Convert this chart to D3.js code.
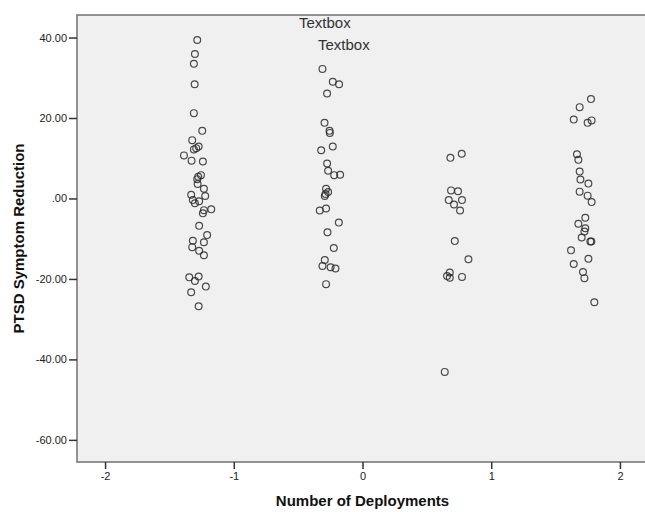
<!DOCTYPE html>
<html>
<head>
<meta charset="utf-8">
<script src="https://cdn.jsdelivr.net/npm/d3@7"></script>
<style>
  body { margin: 0; background: #fff; }
  svg { display: block; font-family: "Liberation Sans", Arial, sans-serif; }
</style>
</head>
<body>
<div id="chart"></div>
<script>
// Jittered deployment values (x) and symptom reduction (y), per group
const g1x = [-1.284, -1.302, -1.310, -1.304, -1.310, -1.245, -1.323, -1.273, -1.292, -1.310,
  -1.387, -1.328, -1.240, -1.255, -1.276, -1.284, -1.281, -1.232, -1.331, -1.222,
  -1.318, -1.269, -1.302, -1.175, -1.232, -1.240, -1.269, -1.207, -1.318, -1.232,
  -1.323, -1.269, -1.232, -1.346, -1.273, -1.302, -1.217, -1.331, -1.273];
const g1y = [39.4, 35.9, 33.5, 28.4, 21.2, 16.8, 14.5, 12.9, 12.5, 12.2,
  10.7, 9.4, 9.2, 5.8, 5.4, 4.8, 3.6, 2.4, 0.9, 0.6,
  -0.4, -0.7, -1.2, -2.7, -2.9, -3.7, -6.8, -9.1, -10.5, -10.9,
  -12.1, -13.0, -14.1, -19.6, -19.4, -20.5, -21.9, -23.3, -26.8];

const g2x = [-0.311, -0.231, -0.182, -0.275, -0.295, -0.256, -0.254, -0.321, -0.231, -0.275,
  -0.267, -0.220, -0.174, -0.283, -0.267, -0.287, -0.293, -0.332, -0.283, -0.184,
  -0.272, -0.223, -0.293, -0.311, -0.248, -0.210, -0.283];
const g2y = [32.2, 29.0, 28.4, 26.1, 18.8, 16.8, 16.3, 12.0, 12.9, 8.7,
  6.9, 5.8, 5.9, 2.4, 1.6, 1.1, 0.6, -3.0, -2.5, -6.0,
  -8.4, -12.3, -15.3, -16.8, -17.1, -17.4, -21.3];

const g3x = [0.683, 0.771, 0.688, 0.742, 0.670, 0.773, 0.711, 0.758, 0.717, 0.823,
  0.678, 0.657, 0.678, 0.773, 0.639];
const g3y = [10.1, 11.1, 2.0, 1.8, -0.4, -0.4, -1.5, -3.0, -10.6, -15.1,
  -18.4, -19.3, -19.7, -19.5, -43.1];

const g4x = [1.775, 1.687, 1.641, 1.749, 1.780, 1.666, 1.677, 1.687, 1.693, 1.755,
  1.687, 1.749, 1.780, 1.731, 1.677, 1.731, 1.724, 1.703, 1.770, 1.778,
  1.620, 1.755, 1.641, 1.713, 1.724, 1.801];
const g4y = [24.7, 22.7, 19.6, 18.8, 19.4, 11.0, 9.6, 6.7, 4.7, 3.7,
  1.7, 0.7, -0.9, -4.8, -6.3, -7.4, -8.2, -9.7, -10.7, -10.7,
  -12.9, -15.0, -16.3, -18.3, -19.8, -25.8];

const xTicks = [-2, -1, 0, 1, 2];
const yTicks = [40, 20, 0, -20, -40, -60];
const yTickLabels = ['40.00', '20.00', '.00', '-20.00', '-40.00', '-60.00'];
const xTickLabels = ['-2', '-1', '0', '1', '2'];
const textboxes = ['Textbox', 'Textbox'];

const width = 645;
const height = 512;
const plot = { left: 77, right: 648, top: 15, bottom: 462 };

const x = d3.scaleLinear().domain([-2.218, 2.218]).range([plot.left, plot.right]);
const y = d3.scaleLinear().domain([-65.5, 45.6]).range([plot.bottom, plot.top]);

const points = [];
[[g1x, g1y], [g2x, g2y], [g3x, g3y], [g4x, g4y]].forEach(([xs, ys]) => {
  xs.forEach((v, i) => points.push({ x: v, y: ys[i] }));
});

const svg = d3.select('#chart')
  .append('svg')
  .attr('width', width)
  .attr('height', height);

// Plot background
svg.append('rect')
  .attr('x', plot.left)
  .attr('y', plot.top)
  .attr('width', plot.right - plot.left)
  .attr('height', plot.bottom - plot.top)
  .attr('fill', '#f0f0f0')
  .attr('stroke', '#707070')
  .attr('stroke-width', 1.5);

// Y axis
const yAxis = svg.append('g')
  .attr('transform', `translate(${plot.left},0)`)
  .call(d3.axisLeft(y).tickValues(yTicks).tickSize(8).tickPadding(2)
    .tickFormat((d, i) => yTickLabels[i]));
yAxis.select('.domain').remove();
yAxis.selectAll('line').attr('stroke', '#333').attr('stroke-width', 1.5);
yAxis.selectAll('text')
  .attr('fill', '#222')
  .attr('font-size', '11px')
  .attr('font-family', '"Liberation Sans", Arial, sans-serif');

// X axis
const xAxis = svg.append('g')
  .attr('transform', `translate(0,${plot.bottom})`)
  .call(d3.axisBottom(x).tickValues(xTicks).tickSize(7).tickPadding(3)
    .tickFormat((d, i) => xTickLabels[i]));
xAxis.select('.domain').remove();
xAxis.selectAll('line').attr('stroke', '#333').attr('stroke-width', 1.5);
xAxis.selectAll('text')
  .attr('fill', '#222')
  .attr('font-size', '11px')
  .attr('font-family', '"Liberation Sans", Arial, sans-serif');

// Points
svg.append('g')
  .selectAll('circle')
  .data(points)
  .enter()
  .append('circle')
  .attr('cx', d => x(d.x))
  .attr('cy', d => y(d.y))
  .attr('r', 3.4)
  .attr('fill', 'none')
  .attr('stroke', '#2a2a2a')
  .attr('stroke-opacity', 0.85)
  .attr('stroke-width', 1.2);

// Textbox labels
svg.append('text')
  .attr('x', 299)
  .attr('y', 28)
  .attr('fill', '#333')
  .attr('font-size', '15px')
  .text(textboxes[0]);
svg.append('text')
  .attr('x', 318)
  .attr('y', 50)
  .attr('fill', '#333')
  .attr('font-size', '15px')
  .text(textboxes[1]);

// Axis titles
svg.append('text')
  .attr('x', x(0))
  .attr('y', 506)
  .attr('text-anchor', 'middle')
  .attr('font-weight', 'bold')
  .attr('font-size', '15px')
  .attr('fill', '#111')
  .text('Number of Deployments');

svg.append('text')
  .attr('transform', `translate(24,${(plot.top + plot.bottom) / 2}) rotate(-90)`)
  .attr('text-anchor', 'middle')
  .attr('font-weight', 'bold')
  .attr('font-size', '15px')
  .attr('fill', '#111')
  .text('PTSD Symptom Reduction');
</script>
</body>
</html>
